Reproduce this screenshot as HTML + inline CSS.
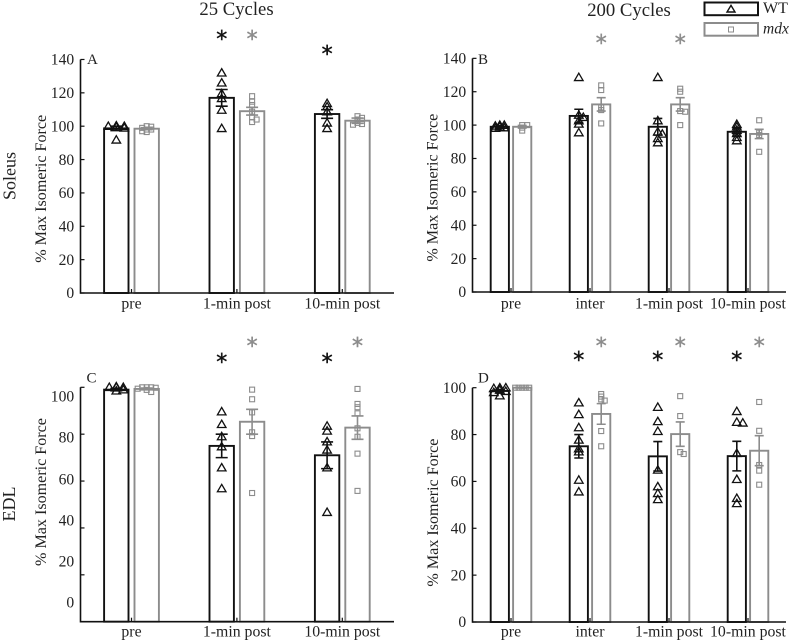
<!DOCTYPE html>
<html lang="en">
<head>
<meta charset="utf-8">
<title>Max isometric force by cycles</title>
<style>
html,body{margin:0;padding:0;background:#fff}
svg{display:block;font-family:"Liberation Serif",serif;fill:#222}
text{stroke:none}
</style>
</head>
<body>
<svg id="chart" width="789" height="641" viewBox="0 0 789 641" xmlns="http://www.w3.org/2000/svg">
  <rect width="789" height="641" fill="#fff"/>
  <text x="236.5" y="15" font-size="18.7" text-anchor="middle">25 Cycles</text>
  <text x="629" y="16" font-size="18.7" text-anchor="middle">200 Cycles</text>
  <text transform="translate(15.5,176) rotate(-90)" font-size="18" text-anchor="middle">Soleus</text>
  <text transform="translate(15,504) rotate(-90)" font-size="18" text-anchor="middle">EDL</text>
  <g>
    <rect x="704.5" y="2.5" width="53.5" height="12.7" fill="#fff" stroke="#111" stroke-width="2"/>
    <path d="M731 5.4 L735 12 L727 12 Z" fill="none" stroke="#111" stroke-width="1.4"/>
    <text x="763" y="13" font-size="16">WT</text>
    <rect x="704.5" y="23" width="53.5" height="12.7" fill="#fff" stroke="#8c8c8c" stroke-width="2"/>
    <rect x="728.5" y="27" width="5" height="5" fill="none" stroke="#8c8c8c" stroke-width="1"/>
    <text x="763" y="33.5" font-size="15.5" font-style="italic">mdx</text>
  </g>
</svg>
<script>
// ---- Data ----
const categoriesThree = ['pre', '1-min post', '10-min post'];
const categoriesFour = ['pre', 'inter', '1-min post', '10-min post'];
const ticksAB = [0, 20, 40, 60, 80, 100, 120, 140];
const ticksCD = [0, 20, 40, 60, 80, 100];

const aWtMeans = [98.7, 117, 107.3];
const aWtSem = [1.3, 5, 2.6];
const aWtPoints = [[100.3, 100, 100, 99.5, 99, 91.8], [132, 126, 119.6, 116.7, 109.7, 98.7], [113.7, 111.7, 108.7, 102, 98.7]];
const aMdxMeans = [98.5, 109, 103.3];
const aMdxSem = [0.6, 2.3, 1.6];
const aMdxPoints = [[100, 99.7, 99, 98, 98, 97, 96.5], [118, 114.7, 112.7, 108.7, 105.3, 104, 102.5], [106, 105, 104, 103.3, 102, 101.3, 100.9]];
const aWtStars = [null, 154, 145];
const aMdxStars = [null, 154, null];

const bWtMeans = [99, 105.5, 99, 96];
const bWtSem = [0.6, 4, 5, 2];
const bWtPoints = [[100, 100, 99.5, 99, 98.5, 98.2], [128.6, 106, 104.7, 102.7, 100.7, 95.5], [128.6, 102.7, 96, 94.7, 92, 89.5], [100.5, 99, 97, 95, 92.7, 90.7]];
const bMdxMeans = [99, 112.4, 112.4, 94.7];
const bMdxSem = [0.8, 4, 4, 2.8];
const bMdxPoints = [[100, 100, 98.5, 96.7], [123.8, 121, 110.6, 109, 101], [121.8, 120, 108.4, 108, 100], [102.9, 95.5, 94, 84]];
const bWtStars = [null, null, null, null];
const bMdxStars = [null, 151, 151, null];

const cWtMeans = [99, 75, 71];
const cWtSem = [0.5, 5, 5.7];
const cWtPoints = [[100.3, 100, 100, 100, 99, 98.5], [89.6, 84.2, 79, 74.7, 65.7, 56.8], [83.5, 81.4, 76.8, 73.3, 65.7, 46.7]];
const cMdxMeans = [99.3, 85.3, 82.8];
const cMdxSem = [0.4, 5.3, 5];
const cMdxPoints = [[100, 100, 100, 99.8, 99.4, 98.9, 98], [99, 94.9, 89.3, 80.8, 79.2, 54.9], [99.3, 92.9, 91.5, 88.9, 82.5, 78.9, 71.7, 55.8]];
const cWtStars = [null, 112, 112];
const cMdxStars = [null, 119, 119];

const dWtMeans = [98.6, 75, 70.7, 70.8];
const dWtSem = [0.6, 5, 6.3, 6.3];
const dWtPoints = [[100, 100, 99.7, 99, 98.5, 98, 96.6], [93.6, 88.6, 83, 77.7, 74, 72.7, 60.6, 55.6], [91.7, 85.6, 81.4, 64.9, 57.8, 54.9, 52.3], [89.9, 85.3, 85, 72, 60.9, 52.8, 50.6]];
const dMdxMeans = [100, 88.8, 80.2, 73.1];
const dMdxSem = [0.1, 4.4, 5.2, 6.4];
const dMdxPoints = [[100, 100, 100, 100, 100], [97.3, 96.2, 95, 94.5, 81.5, 75], [96.4, 87.9, 72.5, 71.7], [93.9, 81.6, 67, 64.6, 58.6]];
const dWtStars = [null, 113, 113, 113];
const dMdxStars = [null, 119, 119, 119];

// ---- Panel geometry ----
const panelA = {id: 'a', letter: 'A', letterX: 87, letterY: 64, axisX: 80.5, axisEnd: 394, y0: 293, unit: 1.668, yMax: 140, first: 131.5, gap: 105.4, off: 15.2, barW: 24.4, cap: 6, wtStep: 8, mdxStep: 4.5, titleX: 46, titleY: 188.8, xLabelY: 308.3, ticks: ticksAB, cats: categoriesThree, wtM: aWtMeans, wtS: aWtSem, wtP: aWtPoints, mdxM: aMdxMeans, mdxS: aMdxSem, mdxP: aMdxPoints, wtStar: aWtStars, mdxStar: aMdxStars, tickLabelY: null};
const panelB = {id: 'b', letter: 'B', letterX: 478, letterY: 64, axisX: 472.5, axisEnd: 786, y0: 292, unit: 1.669, yMax: 140, first: 511, gap: 79, off: 11.2, barW: 18.2, cap: 4.5, wtStep: 4.5, mdxStep: 5, titleX: 437.5, titleY: 187.7, xLabelY: 308.3, ticks: ticksAB, cats: categoriesFour, wtM: bWtMeans, wtS: bWtSem, wtP: bWtPoints, mdxM: bMdxMeans, mdxS: bMdxSem, mdxP: bMdxPoints, wtStar: bWtStars, mdxStar: bMdxStars, tickLabelY: null};
const panelC = {id: 'c', letter: 'C', letterX: 86.5, letterY: 382.5, axisX: 80.5, axisEnd: 394, y0: 621.7, unit: 2.344, yMax: 100, first: 131.5, gap: 105.4, off: 15.2, barW: 24.4, cap: 6, wtStep: 7, mdxStep: 4.5, titleX: 46, titleY: 492, xLabelY: 636.7, ticks: ticksCD, cats: categoriesThree, wtM: cWtMeans, wtS: cWtSem, wtP: cWtPoints, mdxM: cMdxMeans, mdxS: cMdxSem, mdxP: cMdxPoints, wtStar: cWtStars, mdxStar: cMdxStars, tickLabelY: [607.7, 566.7, 525.7, 484.5, 442.5, 401.7]};
const panelD = {id: 'd', letter: 'D', letterX: 478, letterY: 382.5, axisX: 472.5, axisEnd: 786, y0: 622, unit: 2.343, yMax: 100, first: 511, gap: 79, off: 11.2, barW: 18.2, cap: 4.5, wtStep: 6, mdxStep: 3.5, titleX: 438, titleY: 512.6, xLabelY: 636.7, ticks: ticksCD, cats: categoriesFour, wtM: dWtMeans, wtS: dWtSem, wtP: dWtPoints, mdxM: dMdxMeans, mdxS: dMdxSem, mdxP: dMdxPoints, wtStar: dWtStars, mdxStar: dMdxStars, tickLabelY: null};

const BLACK = '#111111';
const GRAY = '#8c8c8c';
const svg = document.getElementById('chart');
const NS = 'http://www.w3.org/2000/svg';

function mk(tag, attrs, parent, txt) {
  const el = document.createElementNS(NS, tag);
  for (const k in attrs) el.setAttribute(k, attrs[k]);
  if (txt !== undefined) el.textContent = txt;
  parent.appendChild(el);
  return el;
}

// Simple beeswarm: spreads only markers that would sit on top of one another
function swarm(values, step, unit, tries) {
  const placed = [];
  values.forEach(function (v) {
    let off = tries[placed.length % tries.length] * step;
    for (const k of tries) {
      const c = k * step;
      const clash = placed.some(function (p) {
        return Math.abs(p.v - v) * unit < 2.5 && Math.abs(p.off - c) < step * 0.9;
      });
      if (!clash) { off = c; break; }
    }
    placed.push({v: v, off: off});
  });
  return placed;
}

function drawSeries(P, g, idx, sign, means, sems, pts, stars, color, kind) {
  const yS = function (v) { return P.y0 - v * P.unit; };
  const cx = P.first + idx * P.gap + sign * P.off;
  const bar = mk('rect', {x: cx - P.barW / 2, y: yS(means[idx]), width: P.barW, height: P.y0 - yS(means[idx]), fill: '#fff', stroke: color, 'stroke-width': 1.9}, g);
  
  
  const slots = kind === 'wt' ? [0, 1, -1] : [0, 1, -1, 2, -2];
  swarm(pts[idx], kind === 'wt' ? P.wtStep : P.mdxStep, P.unit, slots).forEach(function (p) {
    const x = cx + p.off, y = yS(p.v);
    let m;
    if (kind === 'wt') {
      m = mk('path', {d: 'M' + x + ' ' + (y - 4.2) + 'L' + (x + 4.3) + ' ' + (y + 3.2) + 'L' + (x - 4.3) + ' ' + (y + 3.2) + 'Z', fill: 'none', stroke: color, 'stroke-width': 1.3}, g);
    } else {
      m = mk('rect', {x: x - 2.5, y: y - 2.5, width: 5, height: 5, fill: 'none', stroke: color, 'stroke-width': 1.1}, g);
    }
    
    
  });
  const hi = yS(means[idx] + sems[idx]), lo = yS(means[idx] - sems[idx]);
  const err = mk('path', {d: 'M' + cx + ' ' + hi + 'V' + lo + 'M' + (cx - P.cap) + ' ' + hi + 'H' + (cx + P.cap) + 'M' + (cx - P.cap) + ' ' + lo + 'H' + (cx + P.cap), fill: 'none', stroke: color, 'stroke-width': 1.6}, g);
  
  
  if (stars[idx] !== null) {
    const s = mk('text', {x: cx, y: yS(stars[idx]) + 10.5, 'text-anchor': 'middle', 'font-size': 22, 'font-family': '"DejaVu Sans", sans-serif', style: 'fill:' + color + ';stroke:' + color + ';stroke-width:0.45'}, g, '*');
    
    
  }
}

function drawPanel(P) {
  const g = mk('g', {}, svg);
  
  
  const yS = function (v) { return P.y0 - v * P.unit; };

  P.cats.forEach(function (c, i) {
    drawSeries(P, g, i, -1, P.wtM, P.wtS, P.wtP, P.wtStar, BLACK, 'wt');
    drawSeries(P, g, i, 1, P.mdxM, P.mdxS, P.mdxP, P.mdxStar, GRAY, 'mdx');
  });

  const yAxis = mk('line', {x1: P.axisX, x2: P.axisX, y1: yS(P.yMax), y2: P.y0 + 0.8, stroke: BLACK, 'stroke-width': 1.6}, g);
  
  
  const xAxis = mk('line', {x1: P.axisX, x2: P.axisEnd, y1: P.y0, y2: P.y0, stroke: BLACK, 'stroke-width': 1.6}, g);
  
  

  P.ticks.forEach(function (t, i) {
    const tk = mk('line', {x1: P.axisX, x2: P.axisX + 4, y1: yS(t), y2: yS(t), stroke: BLACK, 'stroke-width': 1.2}, g);
    
    
    const ly = P.tickLabelY ? P.tickLabelY[i] : yS(t) + 5.2;
    const lb = mk('text', {x: P.axisX - 6.3, y: ly, 'text-anchor': 'end', 'font-size': 15.6}, g, String(t));
    
    
  });

  P.cats.forEach(function (c, i) {
    const x = P.first + i * P.gap;
    const tk = mk('line', {x1: x, x2: x, y1: P.y0, y2: P.y0 - 4, stroke: BLACK, 'stroke-width': 1.2}, g);
    
    
    const lb = mk('text', {x: x, y: P.xLabelY, 'text-anchor': 'middle', 'font-size': 15.8}, g, c);
    
    
  });

  const yt = mk('text', {transform: 'translate(' + P.titleX + ',' + P.titleY + ') rotate(-90)', 'text-anchor': 'middle', 'font-size': 16.1}, g, '% Max Isomeric Force');
  
  
  const pl = mk('text', {x: P.letterX, y: P.letterY, 'font-size': 15}, g, P.letter);
  
  
}

[panelA, panelB, panelC, panelD].forEach(drawPanel);
</script>
</body>
</html>
